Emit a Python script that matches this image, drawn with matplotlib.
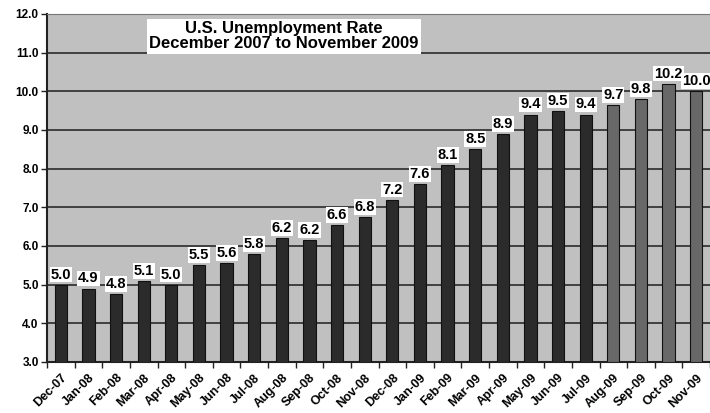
import matplotlib.pyplot as plt
import numpy as np

months = ["Dec-07", "Jan-08", "Feb-08", "Mar-08", "Apr-08", "May-08", "Jun-08",
          "Jul-08", "Aug-08", "Sep-08", "Oct-08", "Nov-08", "Dec-08", "Jan-09",
          "Feb-09", "Mar-09", "Apr-09", "May-09", "Jun-09", "Jul-09", "Aug-09",
          "Sep-09", "Oct-09", "Nov-09"]
# bar heights as drawn, and the rounded values printed above them
rates = [5.0, 4.9, 4.75, 5.1, 5.0, 5.5, 5.55, 5.8, 6.2, 6.15, 6.55, 6.75,
         7.2, 7.6, 8.1, 8.5, 8.9, 9.4, 9.5, 9.4, 9.65, 9.8, 10.2, 10.0]
shown = [5.0, 4.9, 4.8, 5.1, 5.0, 5.5, 5.6, 5.8, 6.2, 6.2, 6.6, 6.8,
         7.2, 7.6, 8.1, 8.5, 8.9, 9.4, 9.5, 9.4, 9.7, 9.8, 10.2, 10.0]
n_dark = 20

plt.rcParams["font.family"] = ["Liberation Sans", "DejaVu Sans"]
plt.rcParams["font.weight"] = "bold"

fig = plt.figure(figsize=(7.1, 4.13), dpi=100)
ax = fig.add_axes([47 / 710, 51 / 413, 663 / 710, 348 / 413])
ax.set_facecolor("#c0c0c0")

x = np.arange(len(months))
colors = ["#2b2b2b"] * n_dark + ["#686868"] * (len(months) - n_dark)
ax.bar(x, [r - 3 for r in rates], bottom=3, width=0.44, color=colors,
       edgecolor="#111111", linewidth=0.8, zorder=3)

for xi, r, s in zip(x, rates, shown):
    ax.text(xi, r + 0.08, f"{s:.1f}", ha="center", va="bottom", fontsize=10.5,
            fontweight="bold", zorder=4, clip_on=False,
            bbox=dict(boxstyle="square,pad=0.06", fc="white", ec="none"))

ax.set_xlim(-0.5, len(months) - 0.5)
ax.set_ylim(3, 12)
ax.set_yticks(np.arange(3, 12.1, 1))
ax.set_yticklabels([f"{v:.1f}" for v in np.arange(3, 12.1, 1)], fontsize=8.5)
ax.yaxis.grid(True, color="#2a2a2a", linewidth=1.2, zorder=1)
ax.set_axisbelow(True)

ax.set_xticks(x)
ax.set_xticklabels(months, rotation=45, ha="right", rotation_mode="anchor",
                   fontsize=9)
ax.set_xticks(np.arange(-0.5, len(months), 1), minor=True)
ax.tick_params(axis="x", which="major", length=0, pad=7)
ax.tick_params(axis="x", which="minor", length=4, width=1, color="#222222")
ax.tick_params(axis="y", length=4, width=1, color="#222222", pad=2)

for side in ["left", "bottom"]:
    ax.spines[side].set_color("#222222")
    ax.spines[side].set_linewidth(1.5)
ax.spines["top"].set_color("#777777")
ax.spines["right"].set_visible(False)

ax.text(8.08, 11.43, "U.S. Unemployment Rate\nDecember 2007 to November 2009",
        ha="center", va="center", fontsize=12, fontweight="bold",
        linespacing=1.0, zorder=5,
        bbox=dict(boxstyle="square,pad=0.15", fc="white", ec="none"))

fig.savefig("out.png", dpi=100)
